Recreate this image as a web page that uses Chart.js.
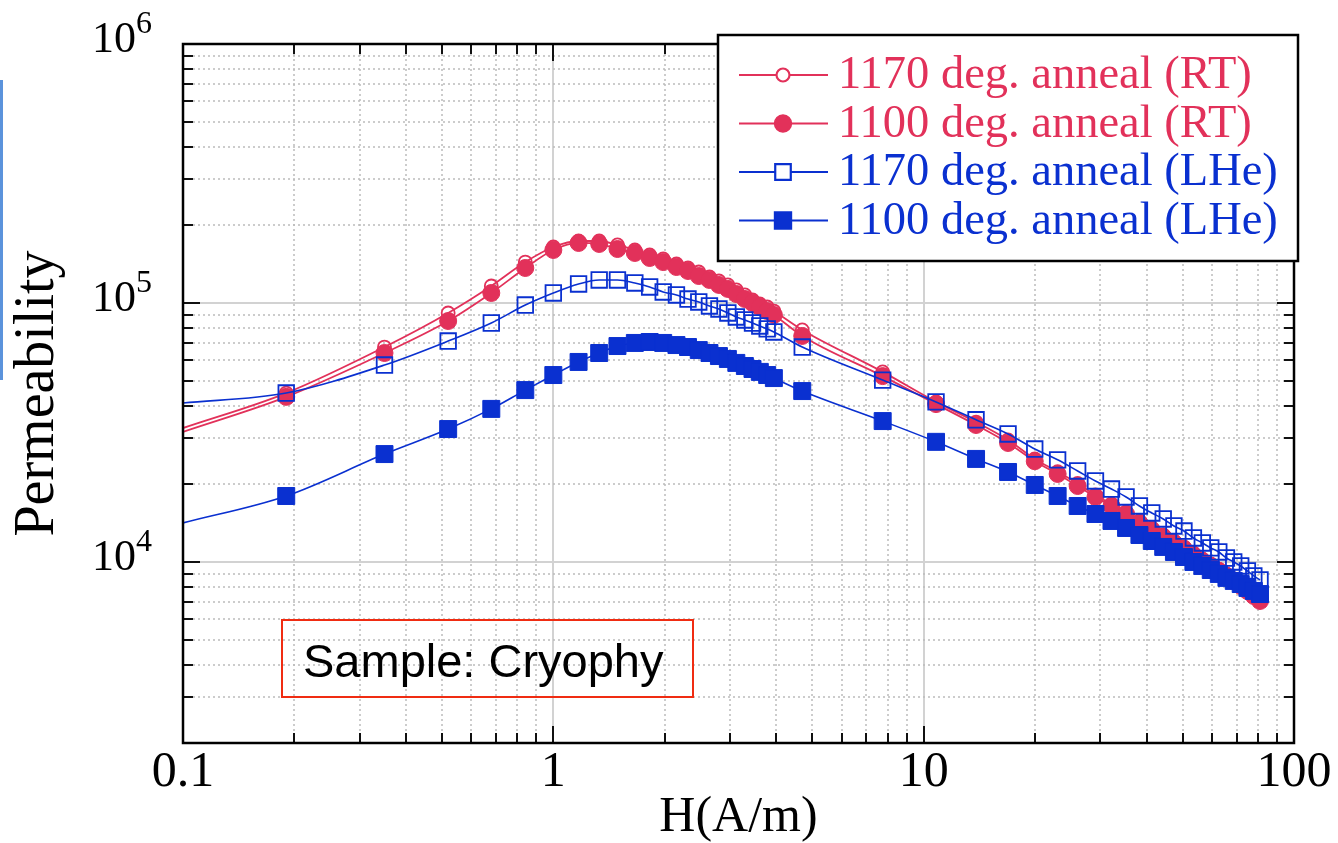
<!DOCTYPE html>
<html>
<head>
<meta charset="utf-8">
<script src="https://cdn.jsdelivr.net/npm/chart.js@4.4.1/dist/chart.umd.min.js"></script>
<style>
    html, body { margin: 0; padding: 0; background: #ffffff; }
    #wrap { position: relative; width: 1338px; height: 843px; }
    #edge_mark { position: absolute; left: 0; top: 80px; width: 3px; height: 300px; background: #5b93dc; }
</style>
</head>
<body>
<div id="wrap">
    <canvas id="permeability_chart" width="1338" height="843"></canvas>
    <div id="edge_mark"></div>
</div>
<script>
// applied field H (A/m)
const field_values = [0.1, 0.19, 0.35, 0.52, 0.68, 0.84, 1.0, 1.17, 1.33, 1.49, 1.66, 1.82, 1.98, 2.15, 2.31, 2.47, 2.64, 2.8, 2.96, 3.12, 3.29, 3.45, 3.61, 3.78, 3.94,
    4.7, 7.75, 10.8, 13.85, 16.9, 19.95, 23.0, 26.05, 29.1, 32.15, 35.2, 38.25, 41.3, 44.35, 47.4, 50.45, 53.5, 56.55, 59.6, 62.65, 65.7, 68.75, 71.8, 74.85, 77.9, 80.95];

// permeability per series
const rt_1170_values = [32900, 44900, 67600, 91500, 116300, 143900, 164500, 173500, 173500, 167500, 160200, 153200, 147900, 141400, 136500, 131700, 126000, 121600, 117400, 112300, 107400, 102700, 99100, 96500, 93100,
    78700, 54200, 41500, 34700, 29600, 25000, 22300, 20100, 18150, 16750, 15600, 14400, 13530, 12710, 12050, 11430, 10830, 10270, 9820, 9390, 8990, 8600, 8220, 7870, 7520, 7190];
const rt_1100_values = [31800, 43400, 64100, 85200, 109300, 136500, 160200, 170500, 169000, 161600, 156000, 149200, 143900, 137700, 132900, 127100, 122700, 117400, 113300, 108300, 103600, 100000, 96500, 93100, 89900,
    74600, 52200, 40700, 33800, 28800, 24500, 21870, 19650, 17820, 16450, 15320, 14150, 13290, 12490, 11840, 11220, 10640, 10090, 9650, 9230, 8830, 8450, 8080, 7730, 7390, 7070];
const lhe_1170_values = [41100, 44900, 57600, 71300, 83700, 98200, 109300, 118400, 122700, 122700, 119500, 115300, 110300, 107400, 103600, 100900, 97400, 94800, 91500, 88300, 86000, 83700, 81500, 79400, 77300,
    67600, 50400, 41500, 35400, 31200, 27300, 24800, 22460, 20550, 19130, 17820, 16450, 15460, 14660, 13770, 13170, 12380, 11840, 11330, 10930, 10360, 10000, 9650, 9230, 8830, 8520];
const lhe_1100_values = [14150, 17980, 26100, 32600, 39000, 46100, 52700, 59200, 64100, 68200, 70100, 70700, 70100, 68800, 67600, 65800, 64100, 62400, 60800, 58700, 57100, 55600, 54200, 52700, 51300,
    45700, 35000, 29100, 25000, 22260, 19830, 17980, 16450, 15320, 14400, 13530, 12710, 12050, 11430, 10930, 10450, 10000, 9650, 9310, 8990, 8680, 8450, 8220, 7940, 7730, 7520];

const series_labels = ["1170 deg. anneal (RT)", "1100 deg. anneal (RT)", "1170 deg. anneal (LHe)", "1100 deg. anneal (LHe)"];

const x_tick_exponents = [-1, 0, 1, 2];
const x_tick_labels = ["0.1", "1", "10", "100"];
const y_tick_exponents = [4, 5, 6];

const RED = "#e2315a";
const BLUE = "#0a30d0";
const SERIF = "'Liberation Serif', 'Times New Roman', serif";

function to_points(values)
{
    return field_values.map((h, i) => ({ x: h, y: values[i] }));
}

// the first entry only anchors the line at the left edge, no marker there
function marker_size(size)
{
    return (ctx) => ctx.dataIndex === 0 ? 0 : size;
}

function make_series(label, values, color, style, size, filled, width, order)
{
    return {
        label: label,
        data: to_points(values),
        borderColor: color,
        borderWidth: width,
        pointStyle: style,
        pointRadius: marker_size(size),
        pointBorderColor: color,
        pointBorderWidth: filled ? 1 : 1.8,
        pointBackgroundColor: filled ? color : "rgba(255,255,255,0)",
        cubicInterpolationMode: "monotone",
        fill: false,
        order: order,
        legend_radius: size,
        legend_filled: filled
    };
}

// log grid (solid decades, dotted in between), inner ticks on all four sides
const frame_plugin =
{
    id: "frame",
    beforeDatasetsDraw(chart)
    {
        const { ctx, chartArea: a, scales: { x, y } } = chart;
        ctx.save();
        for (const [scale, horizontal] of [[x, true], [y, false]])
        {
            for (const { v, major } of log_steps(scale.min, scale.max))
            {
                const p = Math.round(scale.getPixelForValue(v));
                ctx.beginPath();
                if (major)
                {
                    ctx.setLineDash([]);
                    ctx.strokeStyle = "#d2d2d2";
                    ctx.lineWidth = 2;
                }
                else
                {
                    ctx.setLineDash([2, 3]);
                    ctx.strokeStyle = "#bcbcbc";
                    ctx.lineWidth = 1.5;
                }
                if (horizontal) { ctx.moveTo(p, a.top); ctx.lineTo(p, a.bottom); }
                else { ctx.moveTo(a.left, p); ctx.lineTo(a.right, p); }
                ctx.stroke();
            }
        }
        ctx.restore();
    },
    afterDatasetsDraw(chart)
    {
        const { ctx, chartArea: a, scales: { x, y } } = chart;
        ctx.save();
        ctx.strokeStyle = "#111";
        ctx.lineWidth = 2;
        ctx.beginPath();
        for (const { v, major } of log_steps(x.min, x.max))
        {
            const p = Math.round(x.getPixelForValue(v));
            const len = major ? 17 : 10;
            ctx.moveTo(p, a.bottom); ctx.lineTo(p, a.bottom - len);
            ctx.moveTo(p, a.top); ctx.lineTo(p, a.top + len);
        }
        for (const { v, major } of log_steps(y.min, y.max))
        {
            const p = Math.round(y.getPixelForValue(v));
            const len = major ? 17 : 10;
            ctx.moveTo(a.left, p); ctx.lineTo(a.left + len, p);
            ctx.moveTo(a.right, p); ctx.lineTo(a.right - len, p);
        }
        ctx.stroke();

        ctx.lineWidth = 2.5;
        ctx.strokeStyle = "#000";
        ctx.strokeRect(a.left, a.top, a.width, a.height);

        // y tick labels as 10 with a raised exponent
        ctx.fillStyle = "#000";
        ctx.textBaseline = "alphabetic";
        for (const e of y_tick_exponents)
        {
            const p = y.getPixelForValue(Math.pow(10, e));
            ctx.font = "32px " + SERIF;
            ctx.textAlign = "left";
            ctx.fillText(String(e), a.left - 47, p - 11);
            ctx.font = "44px " + SERIF;
            ctx.textAlign = "right";
            ctx.fillText("10", a.left - 47, p + 8);
        }
        ctx.restore();
    },
    afterDraw(chart)
    {
        const { ctx, chartArea: a } = chart;
        ctx.save();

        // legend box
        const bx = a.right - 576, by = a.top - 9, bw = 580, bh = 226;
        ctx.fillStyle = "#fff";
        ctx.fillRect(bx, by, bw, bh);
        ctx.strokeStyle = "#000";
        ctx.lineWidth = 2.5;
        ctx.strokeRect(bx, by, bw, bh);

        ctx.font = "46.5px " + SERIF;
        ctx.textBaseline = "middle";
        ctx.textAlign = "left";
        chart.data.datasets.forEach((ds, i) =>
        {
            const ry = by + 40 + i * 48.5;
            const mx = bx + 65;
            ctx.strokeStyle = ds.borderColor;
            ctx.lineWidth = ds.borderWidth + 0.4;
            ctx.beginPath();
            ctx.moveTo(bx + 21, ry);
            ctx.lineTo(bx + 110, ry);
            ctx.stroke();
            ctx.fillStyle = ds.legend_filled ? ds.borderColor : "#fff";
            ctx.strokeStyle = ds.borderColor;
            ctx.lineWidth = ds.pointBorderWidth + 0.4;
            Chart.helpers.drawPoint(ctx, {
                pointStyle: ds.pointStyle,
                radius: ds.legend_radius,
                borderWidth: ds.pointBorderWidth,
                rotation: 0
            }, mx, ry);
            ctx.fillStyle = ds.borderColor;
            ctx.fillText(ds.label, bx + 120, ry + 1);
        });

        // sample note
        ctx.strokeStyle = "#f02c12";
        ctx.lineWidth = 2;
        ctx.strokeRect(a.left + 99, a.top + 576, 411, 77);
        ctx.fillStyle = "#000";
        ctx.font = "47px 'Liberation Sans', Arial, sans-serif";
        ctx.textBaseline = "alphabetic";
        ctx.fillText("Sample: Cryophy", a.left + 120, a.top + 633);
        ctx.restore();
    }
};

function log_steps(min, max)
{
    const out = [];
    const lo = Math.floor(Math.log10(min) + 1e-9);
    const hi = Math.ceil(Math.log10(max) - 1e-9);
    for (let e = lo; e <= hi; e++)
    {
        for (let m = 1; m <= 9; m++)
        {
            const v = m * Math.pow(10, e);
            if (v > min * 1.0001 && v < max * 0.9999) out.push({ v: v, major: m === 1 });
        }
    }
    return out;
}

const permeability_chart = new Chart("permeability_chart",
{
    type: "line",
    data:
    {
        datasets:
        [
            make_series(series_labels[0], rt_1170_values, RED, "circle", 6.5, false, 1.8, 4),
            make_series(series_labels[1], rt_1100_values, RED, "circle", 8.5, true, 1.8, 3),
            make_series(series_labels[2], lhe_1170_values, BLUE, "rect", 11, false, 1.6, 2),
            make_series(series_labels[3], lhe_1100_values, BLUE, "rect", 12, true, 1.6, 1)
        ]
    },
    options:
    {
        responsive: false,
        animation: false,
        layout:
        {
            padding: { top: 44, right: 44, left: 0, bottom: 0 }
        },
        plugins:
        {
            legend: { display: false },
            tooltip: { enabled: false }
        },
        scales:
        {
            x:
            {
                type: "logarithmic",
                min: 0.1,
                max: 100,
                grid: { display: false, drawTicks: false },
                border: { display: false },
                ticks:
                {
                    autoSkip: false,
                    maxRotation: 0,
                    minRotation: 0,
                    padding: 0,
                    color: "#000",
                    font: { family: SERIF, size: 50 },
                    callback: (value) =>
                    {
                        const e = Math.log10(value);
                        const r = Math.round(e);
                        if (Math.abs(e - r) > 1e-6) return "";
                        const i = x_tick_exponents.indexOf(r);
                        return i < 0 ? "" : x_tick_labels[i];
                    }
                },
                title:
                {
                    display: true,
                    text: "H(A/m)",
                    color: "#000",
                    font: { family: SERIF, size: 50, lineHeight: 1 },
                    padding: { top: 0, bottom: 0 }
                },
                afterFit: (scale) => { scale.height = 100; }
            },
            y:
            {
                type: "logarithmic",
                min: 2000,
                max: 1000000,
                grid: { display: false, drawTicks: false },
                border: { display: false },
                ticks: { display: false },
                title:
                {
                    display: true,
                    text: "Permeability",
                    color: "#000",
                    font: { family: SERIF, size: 56, lineHeight: 1 },
                    padding: { top: 10, bottom: 0 }
                },
                afterFit: (scale) => { scale.width = 183; }
            }
        }
    },
    plugins: [frame_plugin]
});
</script>
</body>
</html>
